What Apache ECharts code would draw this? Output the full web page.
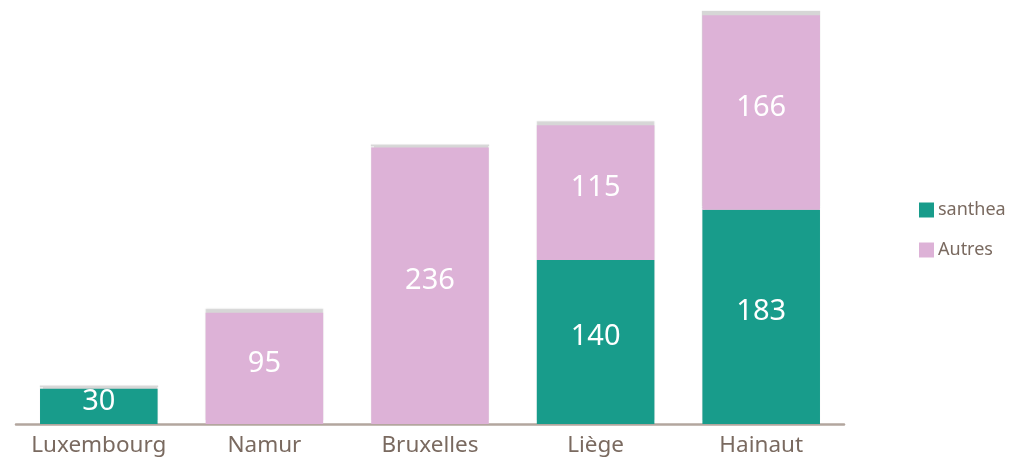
<!DOCTYPE html>
<html>
<head>
<meta charset="utf-8">
<script src="https://cdn.jsdelivr.net/npm/echarts@6/dist/echarts.min.js"></script>
<style>
html,body{margin:0;padding:0;background:#fff;}
#chart{width:1012px;height:459px;}
</style>
</head>
<body>
<div id="chart"></div>
<script>
const categories = ['Luxembourg', 'Namur', 'Bruxelles', 'Liège', 'Hainaut'];
const santhea = [30, null, null, 140, 183];
const autres = [null, 95, 236, 115, 166];

const chart = echarts.init(document.getElementById('chart'), null, {renderer: 'canvas'});
const font = '"Noto Sans", "Open Sans", sans-serif';
const barStyle = (c) => ({
  color: c,
  shadowColor: 'rgba(120,120,120,0.3)',
  shadowOffsetY: -4,
  shadowBlur: 1
});
const lbl = {
  show: true,
  position: 'inside',
  offset: [0, -5],
  color: '#ffffff',
  fontSize: 29,
  fontFamily: font
};
chart.setOption({
  backgroundColor: '#ffffff',
  animation: false,
  grid: {left: 16, right: 168, top: 14, bottom: 35, containLabel: false},
  legend: {
    orient: 'vertical',
    left: 914,
    top: 196,
    itemWidth: 15,
    itemHeight: 15,
    itemGap: 22,
    icon: 'rect',
    textStyle: {color: '#7a6a60', fontSize: 18, fontFamily: font, padding: [0, 0, 5, -1]},
    data: ['santhea', 'Autres']
  },
  xAxis: {
    type: 'category',
    data: categories,
    axisLine: {show: true, lineStyle: {color: '#b3a69e', width: 2.5}},
    axisTick: {show: false},
    axisLabel: {interval: 0, color: '#7a6a60', fontSize: 22.5, fontFamily: font, margin: 10}
  },
  yAxis: {
    type: 'value',
    min: 0,
    max: 350,
    show: false,
    splitLine: {show: false}
  },
  series: [
    {
      name: 'santhea',
      type: 'bar',
      stack: 'total',
      barWidth: '71%',
      data: santhea,
      itemStyle: barStyle('#189c8b'),
      label: lbl
    },
    {
      name: 'Autres',
      type: 'bar',
      stack: 'total',
      barWidth: '71%',
      data: autres,
      itemStyle: barStyle('#ddb2d7'),
      label: lbl
    }
  ]
});
</script>
</body>
</html>
